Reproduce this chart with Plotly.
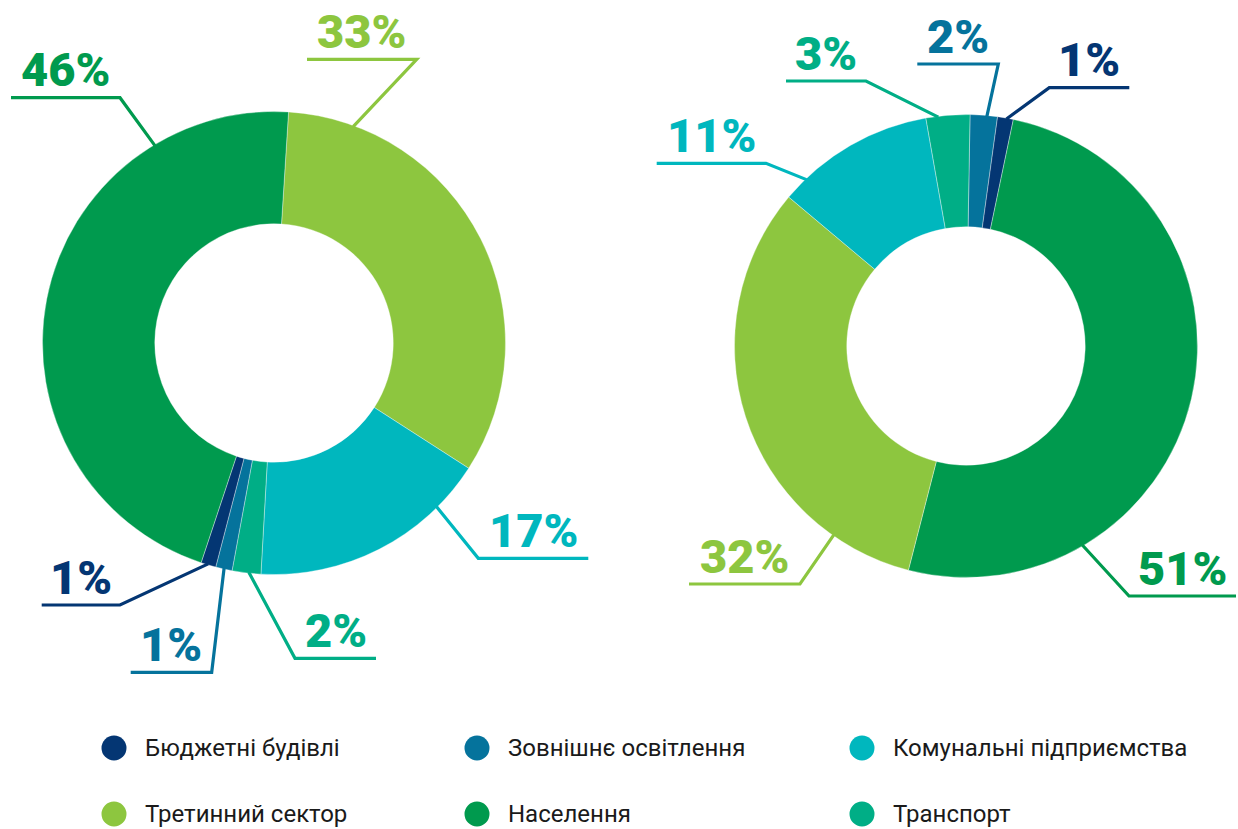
import math
import plotly.graph_objects as go

W, H = 1238, 829

# ---------------- data ----------------
categories = ["Бюджетні будівлі", "Зовнішнє освітлення", "Комунальні підприємства",
              "Третинний сектор", "Населення", "Транспорт"]
colors = ["#043673", "#05739c", "#00b7be", "#8dc63f", "#009a4e", "#00ae86"]

left_values = [1.05, 1.15, 16.8, 33.1, 45.9, 2.0]
right_values = [1.1, 1.9, 11.1, 32.1, 50.7, 3.05]

# clockwise drawing order starting at the rotation angle
left_order = ["Третинний сектор", "Комунальні підприємства", "Транспорт",
              "Зовнішнє освітлення", "Бюджетні будівлі", "Населення"]
right_order = ["Зовнішнє освітлення", "Бюджетні будівлі", "Населення",
               "Третинний сектор", "Комунальні підприємства", "Транспорт"]
left_rotation = 3.6
right_rotation = 1.0

# ---------------- layout (pixels) ----------------
R_OUT = 231.5
HOLE = 0.515
left_center = (274, 343)
right_center = (966, 346)

# label placement: category -> (anchor angle deg, elbow x, elbow y, line x0, line x1)
left_labels = {
    "Населення": (328.9, 120, 97.7, 11, 120),
    "Третинний сектор": (20.1, 416.7, 59.3, 307, 416.7),
    "Комунальні підприємства": (135.2, 478.3, 558.3, 478.3, 588.3),
    "Транспорт": (186.3, 295, 658.3, 295, 376),
    "Зовнішнє освітлення": (192.5, 211.7, 672.3, 130.7, 211.7),
    "Бюджетні будівлі": (196.6, 120, 605, 41.7, 120),
}
right_labels = {
    "Бюджетні будівлі": (10.1, 1049.3, 87.7, 1049.3, 1129.3),
    "Зовнішнє освітлення": (5.2, 998.3, 64, 917.3, 998.3),
    "Транспорт": (353.1, 866, 81, 786, 866),
    "Комунальні підприємства": (316.2, 766, 163.3, 656.7, 766),
    "Третинний сектор": (215, 800, 584, 689, 800),
    "Населення": (149.7, 1129, 596, 1129, 1236),
}

legend_cols_x = [114, 477, 862]
legend_rows_y = [748, 814]


def px(x):
    return x / W


def py(y):
    return 1 - y / H


color_of = dict(zip(categories, colors))
fig = go.Figure()
shapes = []
annotations = []


def add_donut(values, order, rotation, center, labels):
    val_of = dict(zip(categories, values))
    cx, cy = center
    fig.add_trace(go.Pie(
        labels=order,
        values=[val_of[c] for c in order],
        marker=dict(colors=[color_of[c] for c in order],
                    line=dict(color="rgba(255,255,255,0.6)", width=0.6)),
        hole=HOLE,
        sort=False,
        direction="clockwise",
        rotation=rotation,
        textinfo="none",
        hoverinfo="label+percent",
        showlegend=False,
        domain=dict(x=[px(cx - R_OUT), px(cx + R_OUT)],
                    y=[py(cy + R_OUT), py(cy - R_OUT)]),
    ))
    for cat in order:
        ang, ex, ey, lx0, lx1 = labels[cat]
        a = math.radians(ang)
        sx = cx + (R_OUT - 1) * math.sin(a)
        sy = cy - (R_OUT - 1) * math.cos(a)
        far_x = lx0 if abs(lx0 - ex) > abs(lx1 - ex) else lx1
        path = (f"M {px(sx)},{py(sy)} L {px(ex)},{py(ey)} "
                f"L {px(far_x)},{py(ey)}")
        shapes.append(dict(type="path", path=path, xref="paper", yref="paper",
                           line=dict(color=color_of[cat], width=3.2)))
        annotations.append(dict(
            x=px((lx0 + lx1) / 2), y=py(ey - 28), xref="paper", yref="paper",
            text=f"{round(val_of[cat])}%", showarrow=False,
            xanchor="center", yanchor="middle",
            font=dict(family="Roboto", size=47, color=color_of[cat], weight=900),
        ))


add_donut(left_values, left_order, left_rotation, left_center, left_labels)
add_donut(right_values, right_order, right_rotation, right_center, right_labels)

# legend
for i, cat in enumerate(categories):
    lx = legend_cols_x[i % 3]
    ly = legend_rows_y[i // 3]
    r = 12.5
    shapes.append(dict(type="circle", xref="paper", yref="paper",
                       x0=px(lx - r), x1=px(lx + r), y0=py(ly + r), y1=py(ly - r),
                       fillcolor=color_of[cat], line=dict(width=0)))
    annotations.append(dict(
        x=px(lx + 29), y=py(ly - 0.5), xref="paper", yref="paper",
        text=cat, showarrow=False, xanchor="left", yanchor="middle",
        font=dict(family="Roboto", size=24, color="#1a1a1a"),
    ))

fig.update_layout(
    width=W, height=H,
    margin=dict(l=0, r=0, t=0, b=0),
    paper_bgcolor="white", plot_bgcolor="white",
    shapes=shapes, annotations=annotations,
    showlegend=False,
)

fig.write_html("out.html", config={"displayModeBar": False},
               post_script="document.body.style.margin='0px';document.body.style.overflow='hidden';")
